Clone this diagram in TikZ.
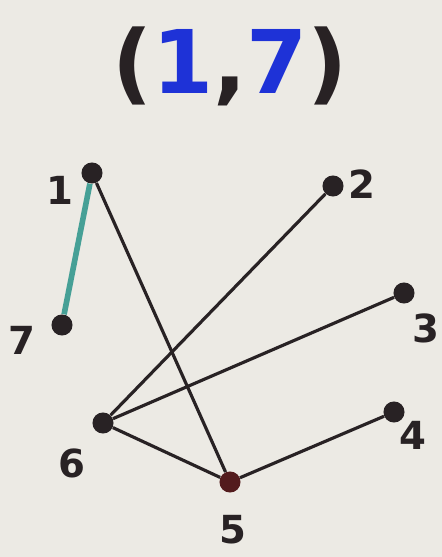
\documentclass[tikz,border=0pt]{standalone}
\usepackage{fontspec}
\setmainfont{DejaVu Sans}
\definecolor{paper}{RGB}{236,234,228}
\definecolor{ink}{RGB}{40,34,36}
\definecolor{penblue}{RGB}{30,50,215}
\definecolor{pairedge}{RGB}{70,160,150}
\tikzset{
  vertex/.style = {circle, fill=ink, inner sep=0pt, minimum size=12pt},
  vlabel/.style = {font=\bfseries\fontsize{22}{22}\selectfont, text=ink},
  edge/.style = {draw=ink, line width=1.8pt},
  pair/.style = {draw=pairedge, line width=3.2pt},
}
\begin{document}
\begin{tikzpicture}[x=0.02cm, y=-0.02cm]
    % --- Background ---
    \fill[paper] (0,0) rectangle (442,557);
    \useasboundingbox (0,0) rectangle (442,557);

    % --- Title ---
    \node[font=\bfseries\fontsize{50}{50}\selectfont, text=ink] (title) at (230,66)
      {(\textcolor{penblue}{1},\textcolor{penblue}{7})};

    % --- Vertices ---
    \node[vertex] (v1) at (92,173) {};
    \node[vertex] (v2) at (333,186) {};
    \node[vertex] (v7) at (62,325) {};
    \node[vertex] (v3) at (404,293) {};
    \node[vertex] (v6) at (103,423) {};
    \node[vertex] (v4) at (394,412) {};
    \node[vertex, fill=ink!80!red] (v5) at (230,482) {};

    % --- Labels ---
    \node[vlabel] (l1) at (60,190) {1};
    \node[vlabel] (l2) at (362,184) {2};
    \node[vlabel] (l7) at (22,340) {7};
    \node[vlabel] (l3) at (426,328) {3};
    \node[vlabel] (l6) at (72,463) {6};
    \node[vlabel] (l4) at (413,435) {4};
    \node[vlabel] (l5) at (233,530) {5};

    % --- Edges ---
    \draw[pair] (v1) -- (v7);
    \draw[edge] (v1) -- (v5);
    \draw[edge] (v2) -- (v6);
    \draw[edge] (v3) -- (v6);
    \draw[edge] (v6) -- (v5);
    \draw[edge] (v5) -- (v4);
\end{tikzpicture}
\end{document}
